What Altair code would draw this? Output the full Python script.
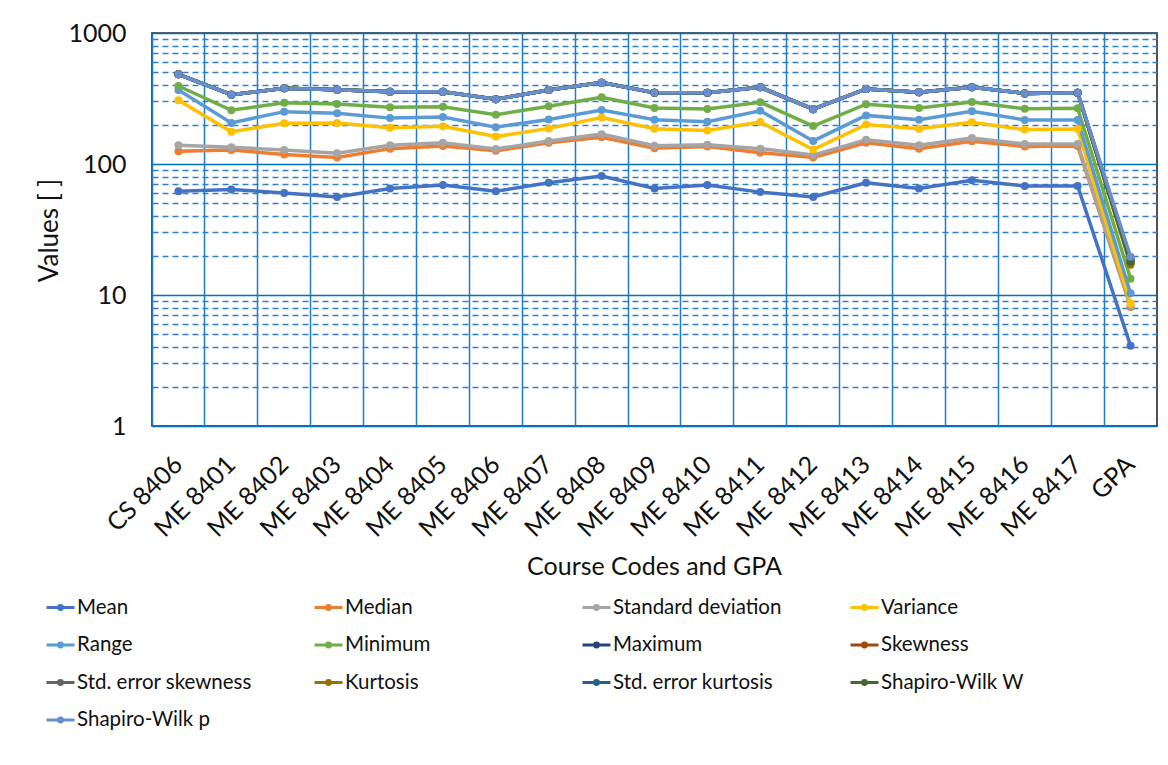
import altair as alt
import pandas as pd

courses = ["CS 8406", "ME 8401", "ME 8402", "ME 8403", "ME 8404", "ME 8405",
           "ME 8406", "ME 8407", "ME 8408", "ME 8409", "ME 8410", "ME 8411",
           "ME 8412", "ME 8413", "ME 8414", "ME 8415", "ME 8416", "ME 8417", "GPA"]

series_names = ["Mean", "Median", "Standard deviation", "Variance", "Range",
                "Minimum", "Maximum", "Skewness", "Std. error skewness",
                "Kurtosis", "Std. error kurtosis", "Shapiro-Wilk W", "Shapiro-Wilk p"]

colors = ["#4472C4", "#ED7D31", "#A5A5A5", "#FFC000", "#5B9BD5", "#70AD47",
          "#264478", "#9E480E", "#636363", "#997300", "#255E91", "#43682B", "#698ED0"]

mean = [62, 64, 60, 56, 65, 69, 62, 72, 81, 65, 69, 61, 56, 72, 65, 75, 68, 68, 4.1]
median = [125, 128, 118, 112, 131, 137, 126, 145, 160, 132, 136, 122, 112, 145, 131, 149, 136, 137, 8.1]
std_dev = [139, 134, 128, 121, 139, 145, 130, 150, 169, 138, 140, 131, 117, 153, 139, 158, 142, 142, 8.3]
variance = [306, 176, 205, 206, 189, 194, 162, 187, 226, 186, 180, 209, 129, 200, 186, 208, 183, 185, 8.6]
value_range = [367, 206, 251, 244, 224, 228, 191, 219, 258, 218, 210, 255, 150, 235, 218, 253, 217, 217, 10.3]
minimum = [394, 257, 294, 287, 271, 274, 238, 276, 323, 268, 263, 296, 195, 286, 268, 297, 264, 266, 13.3]
maximum = [484, 338, 378, 369, 356, 356, 312, 367, 418, 350, 350, 385, 262, 374, 353, 385, 346, 350, 19.0]
skewness = [484, 338, 378, 369, 356, 356, 312, 367, 418, 350, 350, 385, 262, 374, 353, 385, 346, 350, 17.5]
se_skewness = [484, 338, 378, 369, 356, 356, 312, 367, 418, 350, 350, 385, 262, 374, 353, 385, 346, 350, 18.5]
kurtosis = [484, 338, 378, 369, 356, 356, 312, 367, 418, 350, 350, 385, 262, 374, 353, 385, 346, 350, 17.0]
se_kurtosis = [484, 338, 378, 369, 356, 356, 312, 367, 418, 350, 350, 385, 262, 374, 353, 385, 346, 350, 18.0]
sw_w = [484, 338, 378, 369, 356, 356, 312, 367, 418, 350, 350, 385, 262, 374, 353, 385, 346, 350, 18.0]
sw_p = [484, 338, 378, 369, 356, 356, 312, 367, 418, 350, 350, 385, 262, 374, 353, 385, 346, 350, 19.6]

all_series = [mean, median, std_dev, variance, value_range, minimum, maximum,
              skewness, se_skewness, kurtosis, se_kurtosis, sw_w, sw_p]

major_ticks = [1, 10, 100, 1000]
minor_ticks = [m * d for d in [1, 10, 100] for m in range(2, 10)]

rows = []
for name, vals in zip(series_names, all_series):
    for c, v in zip(courses, vals):
        rows.append({"Course": c, "Series": name, "Value": v})
df = pd.DataFrame(rows)

FONT = "Lato"
x_scale = alt.Scale(type="band", paddingInner=0, paddingOuter=0, domain=courses)
y_scale = alt.Scale(type="log", domain=[1, 1000], nice=False)

grid_layer = alt.Chart(df).mark_point(opacity=0).encode(
    x=alt.X("Course:N", sort=courses, scale=x_scale,
            axis=alt.Axis(orient="bottom", bandPosition=0, grid=True,
                          gridColor="#1F7BC9", gridWidth=1.5, labels=False,
                          ticks=False, domain=False, title=None)),
    y=alt.Y("Value:Q", scale=y_scale,
            axis=alt.Axis(orient="left", values=minor_ticks, grid=True,
                          gridColor="#2E7FCB", gridWidth=1.4, gridDash=[6, 4],
                          labels=False, ticks=False, domain=False, title=None)),
)

main = alt.Chart(df).mark_line(
    strokeWidth=3.5,
    point=alt.OverlayMarkDef(size=64, filled=True, opacity=1),
).encode(
    x=alt.X("Course:N", sort=courses, scale=x_scale,
            axis=alt.Axis(orient="bottom", grid=False, ticks=False, tickSize=0,
                          domain=False, labelAngle=-45, labelAlign="right",
                          labelBaseline="middle", labelPadding=34,
                          labelFont=FONT, labelFontSize=25, labelColor="#111111",
                          title="Course Codes and GPA", titleFont=FONT,
                          titleFontSize=25, titleFontWeight="normal",
                          titleColor="#111111", titleX=502, titleY=140,
                          titleBaseline="middle", titleAlign="center")),
    y=alt.Y("Value:Q", scale=y_scale,
            axis=alt.Axis(orient="left", values=major_ticks, format="d",
                          grid=True, gridColor="#0070C0", gridWidth=1.5,
                          ticks=False, tickSize=0, domain=False,
                          labelPadding=26, labelFont=FONT, labelFontSize=25,
                          labelColor="#111111",
                          title="Values [ ]", titleFont=FONT, titleFontSize=26,
                          titleFontWeight="normal", titleColor="#111111",
                          titleX=-103, titleY=197, titleAngle=270,
                          titleBaseline="middle", titleAlign="center")),
    color=alt.Color("Series:N", sort=series_names,
                    scale=alt.Scale(domain=series_names, range=colors),
                    legend=alt.Legend(
                        orient="none", legendX=-107, legendY=559, columns=4,
                        direction="horizontal",
                        gridAlign="all", columnPadding=56, rowPadding=11.5,
                        padding=0, title=None,
                        symbolType="M-1,0H1M-0.14,0A0.14,0.14,0,1,0,0.14,0A0.14,0.14,0,1,0,-0.14,0Z",
                        symbolSize=784, symbolStrokeWidth=3,
                        labelFont=FONT, labelFontSize=20.5, labelColor="#111111",
                        labelOffset=1, labelLimit=400)),
)

chart = alt.layer(grid_layer, main).resolve_axis(
    x="independent", y="independent"
).properties(
    width=1005, height=393,
    autosize=alt.AutoSizeParams(type="none"),
    padding={"left": 144, "top": 25, "right": 2, "bottom": 320},
).configure_view(stroke="#262626", strokeWidth=1.6)

chart.save("out.html", embed_options={"renderer": "svg", "actions": False})
